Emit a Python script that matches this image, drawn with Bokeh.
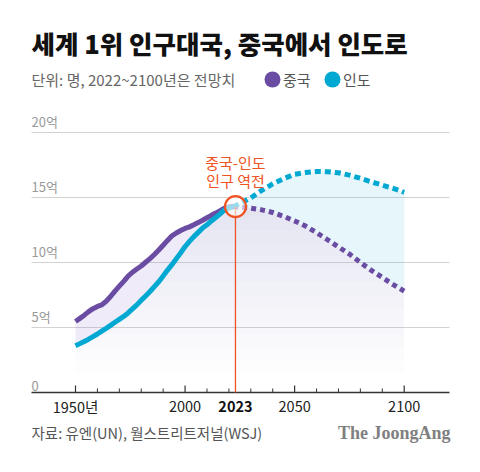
from bokeh.plotting import figure
from bokeh.models import Range1d, Label, BoxAnnotation
from bokeh.core.properties import value
from bokeh.embed import file_html
from bokeh.resources import INLINE

# ---------------- data (억 명) ----------------
years_hist = [1950, 1952, 1954, 1956, 1958, 1960, 1962, 1964, 1966, 1968, 1970,
              1972, 1974, 1976, 1978, 1980, 1982, 1984, 1986, 1988, 1990, 1992,
              1994, 1996, 1998, 2000, 2002, 2004, 2006, 2008, 2010, 2012, 2014,
              2016, 2018, 2020, 2022]
china_hist = [5.46, 5.70, 5.95, 6.22, 6.45, 6.62, 6.74, 7.02, 7.38, 7.80, 8.18,
              8.55, 8.95, 9.25, 9.50, 9.73, 10.02, 10.30, 10.62, 10.96, 11.33, 11.70,
              12.05, 12.27, 12.46, 12.62, 12.74, 12.90, 13.07, 13.25, 13.44, 13.63, 13.80,
              13.98, 14.18, 14.28, 14.32]
india_hist = [3.59, 3.76, 3.93, 4.10, 4.30, 4.50, 4.72, 4.93, 5.16, 5.40, 5.63,
              5.85, 6.12, 6.43, 6.74, 7.09, 7.43, 7.77, 8.15, 8.52, 8.96, 9.42,
              9.83, 10.28, 10.74, 11.23, 11.62, 11.99, 12.32, 12.66, 12.90, 13.20, 13.46,
              13.74, 14.05, 14.20, 14.28]
years_proj = [2022, 2025, 2030, 2035, 2040, 2045, 2050, 2055, 2060, 2065, 2070,
              2075, 2080, 2085, 2090, 2095, 2100]
china_proj = [14.32, 14.26, 14.18, 14.05, 13.85, 13.55, 13.20, 12.80, 12.30, 11.75, 11.20,
              10.65, 10.00, 9.40, 8.85, 8.30, 7.80]
india_proj = [14.28, 14.55, 14.97, 15.55, 16.05, 16.45, 16.78, 16.92, 17.00, 16.98, 16.90,
              16.72, 16.48, 16.20, 15.95, 15.70, 15.40]
cross_year = 2023
cross_pop = 14.3

y_ticks = [0, 5, 10, 15, 20]
y_tick_labels = ["0", "5억", "10억", "15억", "20억"]
x_ticks = [1950, 2000, 2050, 2100]
x_tick_labels = ["1950년", "2000", "2050", "2100"]
x_minor_ticks = [1960, 1970, 1980, 1990, 2010, 2020, 2030, 2040, 2060, 2070, 2080, 2090]
legend_names = ["중국", "인도"]

# ---------------- style / layout ----------------
PURPLE = "#6a4ca3"
CYAN = "#00a8d2"
RED = "#ef5323"
FONT = "Noto Sans CJK KR"
TITLE_FONT = "Noto Sans CJK KR Black, Noto Sans CJK KR"

W, H = 480, 472
PX_PER_UNIT = 13.0          # px per 1억
PX_PER_YEAR = 2.1913        # px per year
ORIGIN_X, ORIGIN_Y = 75, 392  # pixel position of (1950, 0)

def sx(px):   # pixel x -> data x
    return 1950 + (px - ORIGIN_X) / PX_PER_YEAR

def sy(py):   # pixel y (from top) -> data y
    return (ORIGIN_Y - py) / PX_PER_UNIT

axis_start, axis_end = sx(31), sx(449)
tick_major = 7 / PX_PER_UNIT
tick_minor = 4 / PX_PER_UNIT

p = figure(width=W, height=H, output_backend="svg", toolbar_location=None,
           x_range=Range1d(sx(0), sx(W)), y_range=Range1d(sy(H), sy(0)),
           x_axis_location=None, y_axis_location=None,
           min_border=0, min_border_left=0, min_border_right=0,
           min_border_top=0, min_border_bottom=0)
p.outline_line_color = None
p.background_fill_color = "white"
p.border_fill_color = "white"
p.grid.visible = False

# gridlines
grid_vals = y_ticks[1:]
p.segment(x0=[axis_start] * len(grid_vals), y0=grid_vals,
          x1=[axis_end] * len(grid_vals), y1=grid_vals,
          line_color="#d2d2d2", line_width=1)

# ---------------- fills ----------------
all_years = years_hist + years_proj[1:]
all_china = china_hist + china_proj[1:]
all_india = india_hist + india_proj[1:]
lower = [min(c, i) for c, i in zip(all_china, all_india)]
for k in range(15):
    base = 1.5 + k
    p.varea(x=all_years, y1=[min(base, l) for l in lower], y2=lower,
            fill_color="#c3cad5", fill_alpha=0.035)
p.varea(x=years_hist, y1=india_hist, y2=china_hist, fill_color="#8c6fd0", fill_alpha=0.14)
p.varea(x=years_proj, y1=china_proj, y2=india_proj, fill_color="#3cbde0", fill_alpha=0.13)

# ---------------- x axis (drawn through the data scales) ----------------
p.segment(x0=[axis_start], y0=[0], x1=[axis_end], y1=[0], line_color="#333333", line_width=1.6)
p.segment(x0=x_ticks, y0=[0] * len(x_ticks), x1=x_ticks, y1=[tick_major] * len(x_ticks),
          line_color="#333333", line_width=1.2)
p.segment(x0=x_minor_ticks, y0=[0] * len(x_minor_ticks), x1=x_minor_ticks,
          y1=[tick_minor] * len(x_minor_ticks), line_color="#333333", line_width=1)
p.text(x=x_ticks, y=[0] * len(x_ticks), text=x_tick_labels, text_font=value(FONT),
       text_font_size="14.5px", text_color="#222222", text_align="center",
       text_baseline="middle", y_offset=14)
p.text(x=[cross_year], y=[0], text=[str(cross_year)], text_font=value(FONT),
       text_font_size="14.5px", text_font_style="bold", text_color="#111111",
       text_align="center", text_baseline="middle", y_offset=14)

# y tick labels
p.text(x=[axis_start] * len(y_ticks), y=y_ticks, text=y_tick_labels, text_font=value(FONT),
       text_font_size="13px", text_color="#999999", text_baseline="bottom", y_offset=-2)

# ---------------- lines ----------------
p.line(years_hist, china_hist, line_color=PURPLE, line_width=5, line_join="round")
p.line(years_hist, india_hist, line_color=CYAN, line_width=5, line_join="round")
p.line(years_proj, china_proj, line_color=PURPLE, line_width=5, line_dash="5 4", line_cap="butt")
p.line(years_proj, india_proj, line_color=CYAN, line_width=5, line_dash="6 4", line_cap="butt")

# crossover marker
p.segment(x0=[cross_year], y0=[0], x1=[cross_year], y1=[cross_pop], line_color=RED, line_width=1.3)
p.scatter([cross_year], [cross_pop], marker="circle", size=21, fill_color="white",
          fill_alpha=0.6, line_color=RED, line_width=2.2)

# ---------------- annotations (screen units: from bottom-left of canvas) ----------------
def lab(x, y, text, size, color, bold=False, align="left", font=FONT, xu="screen"):
    l = Label(x=x, y=y, x_units=xu, y_units="screen", text=text, text_font=font,
              text_font_size=size, text_color=color, text_align=align,
              text_baseline="middle", text_font_style="bold" if bold else "normal")
    p.add_layout(l)
    return l

lab(31, H - 42, "세계 1위 인구대국, 중국에서 인도로", "25.5px", "#111111", bold=True, font=TITLE_FONT)
lab(31, H - 79, "단위: 명, 2022~2100년은 전망치", "15px", "#666666")
for cx, col, name in [(272, PURPLE, legend_names[0]), (332, CYAN, legend_names[1])]:
    p.add_layout(BoxAnnotation(left=cx - 8, right=cx + 8, bottom=H - 79 - 8, top=H - 79 + 8,
                               left_units="screen", right_units="screen",
                               bottom_units="screen", top_units="screen",
                               border_radius=8, fill_color=col, fill_alpha=1,
                               line_color=None, level="overlay"))
    lab(cx + 10.5, H - 79, name, "15px", "#555555")

lab(cross_year, H - 161.7, "중국-인도", "15px", RED, align="center", xu="data")
lab(cross_year, H - 180, "인구 역전", "15px", RED, align="center", xu="data")

lab(31, H - 432, "자료: 유엔(UN), 월스트리트저널(WSJ)", "14.5px", "#555555")
lab(450, H - 432, "The JoongAng", "18px", "#808080", bold=True, align="right", font="Liberation Serif")

open("out.html", "w").write(file_html(p, INLINE))
